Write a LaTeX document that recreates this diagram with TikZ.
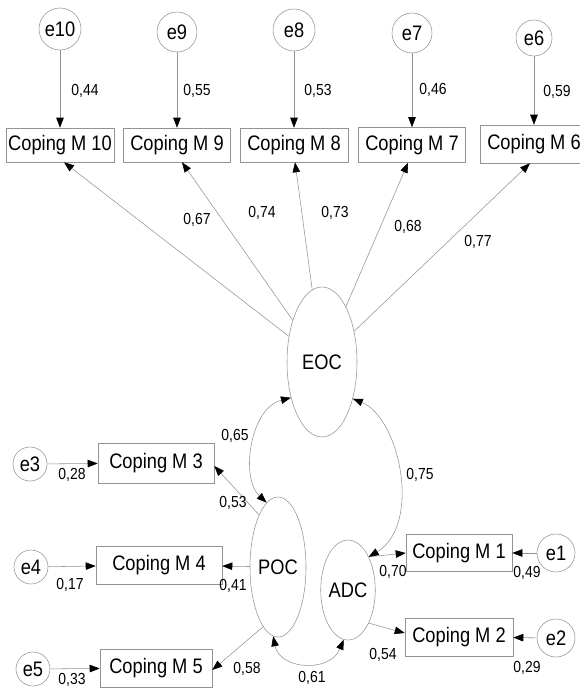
\documentclass[tikz,border=0pt]{standalone}
\usepackage{fontspec}
\setmainfont{Liberation Sans}[FakeStretch=0.87]
\usetikzlibrary{arrows.meta,shapes.geometric,calc}

\begin{document}
\begin{tikzpicture}[x=1pt,y=-1pt,
  line/.style={draw=gray!85, line width=0.55pt},
  tip/.tip={Triangle[length=10pt,width=7.5pt,color=black]},
  arr/.style={line, -tip},
  biarr/.style={line, tip-tip},
  obs/.style={draw=gray!85, line width=0.55pt, rectangle, inner sep=0pt,
    minimum height=36pt, font=\fontsize{21}{24}\selectfont},
  err/.style={draw=gray!85, line width=0.55pt, circle, inner sep=0pt,
    font=\fontsize{21}{24}\selectfont},
  lat/.style={draw=gray!85, line width=0.55pt, ellipse, inner sep=0pt,
    font=\fontsize{21}{24}\selectfont},
  coef/.style={inner sep=0pt, font=\fontsize{16}{18}\selectfont}]

\useasboundingbox (0,0) rectangle (580,688);
\clip (0,0) rectangle (580,688);

% latent factors
\node[lat, minimum width=70pt, minimum height=150pt] (EOC) at (322,362) {EOC};
\node[lat, minimum width=56pt, minimum height=140pt] (POC) at (278,567) {POC};
\node[lat, minimum width=42pt, minimum height=100pt] (ADC) at (348,590) {ADC};

% indicators of EOC
\node[obs, minimum width=108pt, minimum height=34pt] (m10) at (60,145) {Coping M 10};
\node[obs, minimum width=107pt, minimum height=34pt] (m9) at (177,145) {Coping M 9};
\node[obs, minimum width=108pt, minimum height=34pt] (m8) at (294,145) {Coping M 8};
\node[obs, minimum width=107pt, minimum height=35pt] (m7) at (412,145) {Coping M 7};
\node[obs, minimum width=108pt, minimum height=38pt] (m6) at (534,144) {Coping M 6};

% indicators of POC
\node[obs, minimum width=116pt, minimum height=40pt] (m3) at (156,463) {Coping M 3};
\node[obs, minimum width=126pt, minimum height=38pt] (m4) at (159,565) {Coping M 4};
\node[obs, minimum width=112pt, minimum height=38pt] (m5) at (156,668) {Coping M 5};

% indicators of ADC
\node[obs, minimum width=106pt, minimum height=37pt] (m1) at (459,553) {Coping M 1};
\node[obs, minimum width=108pt, minimum height=38pt] (m2) at (459,637) {Coping M 2};

% error terms
\node[err, minimum size=42pt] (e10) at (60,29) {e10};
\node[err, minimum size=40pt] (e9) at (177,32) {e9};
\node[err, minimum size=42pt] (e8) at (294,30) {e8};
\node[err, minimum size=40pt] (e7) at (412,33) {e7};
\node[err, minimum size=36pt] (e6) at (534,38) {e6};
\node[err, minimum size=34pt] (e3) at (30,464) {e3};
\node[err, minimum size=34pt] (e4) at (31,567) {e4};
\node[err, minimum size=34pt] (e5) at (33,669) {e5};
\node[err, minimum size=38pt] (e1) at (556,553) {e1};
\node[err, minimum size=38pt] (e2) at (556,638) {e2};

% error paths
\draw[arr] (e10) -- (m10);
\draw[arr] (e9) -- (m9);
\draw[arr] (e8) -- (m8);
\draw[arr] (e7) -- (m7);
\draw[arr] (e6) -- (m6);
\draw[arr] (e3) -- (m3);
\draw[arr] (e4) -- (m4);
\draw[arr] (e5) -- (m5);
\draw[arr] (e1) -- (m1);
\draw[arr] (e2) -- (m2);

% loadings
\draw[arr] (EOC) -- ([xshift=4pt]m10.south);
\draw[arr] (EOC) -- ([xshift=5pt]m9.south);
\draw[arr] (EOC) -- ([xshift=1pt]m8.south);
\draw[arr] (EOC) -- ([xshift=-4pt]m7.south);
\draw[arr] (EOC) -- ([xshift=-4pt]m6.south);
\draw[arr] (POC.110) -- ([yshift=-3pt]m3.east);
\draw[arr] (POC) -- (m4);
\draw[arr] (POC.256) -- ([yshift=-2pt]m5.east);
\draw[arr] (ADC.58) -- (m1.west);
\draw[arr] (ADC.-58) -- ([yshift=4pt]m2.west);

% factor covariances
\draw[biarr] (EOC.229) .. controls (250,408) and (240,478) .. (POC.100);
\draw[biarr] (EOC.-50) .. controls (400,418) and (422,525) .. (ADC.58);
\draw[biarr] (POC.266) .. controls (280,670) and (330,673) .. (ADC.265);

% coefficients
\node[coef] (c44) at (85,91) {0,44};
\node[coef] (c55) at (197,91) {0,55};
\node[coef] (c53a) at (318,91) {0,53};
\node[coef] (c46) at (433,90) {0,46};
\node[coef] (c59) at (557,92) {0,59};
\node[coef] (c67) at (197,220) {0,67};
\node[coef] (c74) at (262,213) {0,74};
\node[coef] (c73) at (335,213) {0,73};
\node[coef] (c68) at (408,227) {0,68};
\node[coef] (c77) at (478,242) {0,77};
\node[coef] (c65) at (235,436) {0,65};
\node[coef] (c75) at (420,475) {0,75};
\node[coef] (c28) at (72,475) {0,28};
\node[coef] (c17) at (70,585) {0,17};
\node[coef] (c33) at (72,680) {0,33};
\node[coef] (c53b) at (233,503) {0,53};
\node[coef] (c41) at (233,586) {0,41};
\node[coef] (c58) at (247,669) {0,58};
\node[coef] (c61) at (312,678) {0,61};
\node[coef] (c70) at (393,572) {0,70};
\node[coef] (c54) at (383,655) {0,54};
\node[coef] (c49) at (527,573) {0,49};
\node[coef] (c29) at (527,668) {0,29};
\end{tikzpicture}
\end{document}
